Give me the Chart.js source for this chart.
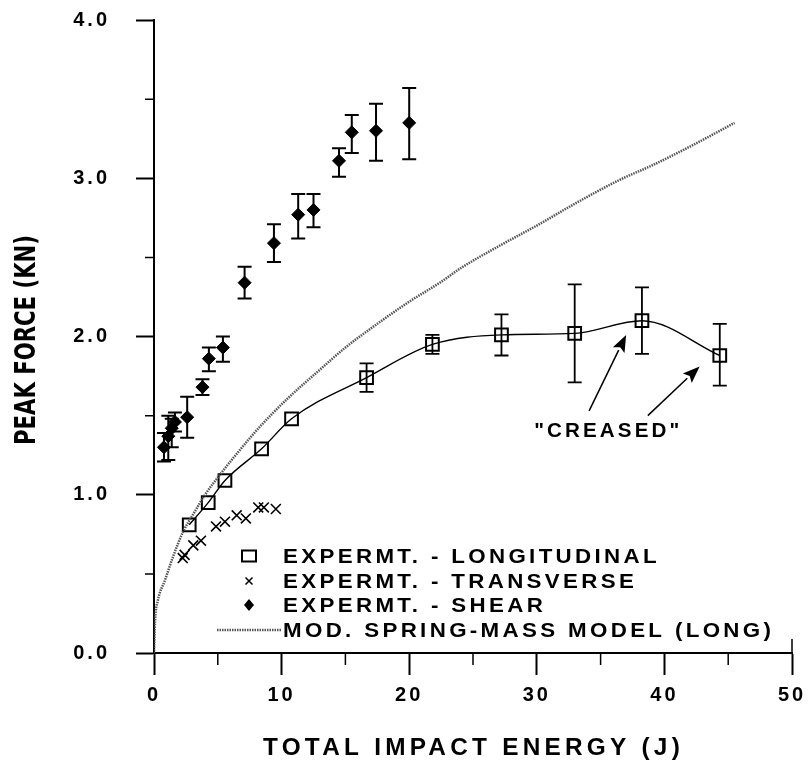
<!DOCTYPE html>
<html>
<head>
<meta charset="utf-8">
<script src="https://cdn.jsdelivr.net/npm/chart.js@4.4.1/dist/chart.umd.min.js"></script>
<style>
html, body { margin: 0; padding: 0; background: #fff; }
#wrap { width: 810px; height: 771px; }
</style>
</head>
<body>
<div id="wrap"><canvas id="c"></canvas></div>
<script>
'use strict';
// longitudinal tests: energy (J), peak force (kN), error bar ends
let longX = [2.76, 4.25, 5.56, 8.43, 10.78, 16.66, 21.82, 27.23, 32.97, 38.24, 44.34];
let longY = [0.81, 0.95, 1.09, 1.29, 1.48, 1.74, 1.95, 2.01, 2.02, 2.10, 1.88];
let longLo = [null, null, null, null, null, 1.65, 1.89, 1.88, 1.71, 1.89, 1.69];
let longHi = [null, null, null, null, null, 1.83, 2.01, 2.14, 2.33, 2.31, 2.08];

// transverse tests
let transX = [2.25, 2.4, 3.08, 3.68, 4.86, 5.56, 6.48, 7.2, 8.17, 8.61, 9.55];
let transY = [0.60, 0.62, 0.68, 0.71, 0.80, 0.83, 0.87, 0.85, 0.92, 0.92, 0.91];

// shear tests
let shearX = [0.78, 1.12, 1.39, 1.64, 2.6, 3.8, 4.3, 5.4, 7.1, 9.4, 11.3, 12.5, 14.5, 15.5, 17.4, 20.0];
let shearY = [1.30, 1.37, 1.42, 1.46, 1.49, 1.68, 1.86, 1.93, 2.34, 2.59, 2.77, 2.80, 3.11, 3.29, 3.30, 3.35];
let shearLo = [1.21, 1.22, 1.30, 1.40, 1.36, 1.63, 1.78, 1.84, 2.24, 2.47, 2.62, 2.69, 3.01, 3.16, 3.11, 3.12];
let shearHi = [1.39, 1.50, 1.48, 1.52, 1.62, 1.73, 1.93, 2.00, 2.44, 2.71, 2.90, 2.90, 3.19, 3.40, 3.47, 3.57];

// modified spring-mass model (long)
let modelX = [0, 0.08, 0.3, 0.86, 1.5, 2.3, 3.1, 4.0, 5.2, 6.6, 8.3, 10.5, 13.0, 15.0, 17.5, 20.0, 22.4, 24.0, 27.0, 30.2, 33.0, 36.5, 39.0, 42.0, 45.5];
let modelY = [0, 0.2, 0.33, 0.46, 0.61, 0.77, 0.88, 1.0, 1.13, 1.27, 1.43, 1.61, 1.79, 1.93, 2.08, 2.22, 2.34, 2.43, 2.57, 2.71, 2.84, 2.99, 3.08, 3.20, 3.35];

// axes
let xTicks = [0, 10, 20, 30, 40, 50];
let xMinor = [5, 15, 25, 35, 45];
let yTicks = [0, 1, 2, 3, 4];
let yMinor = [0.5, 1.5, 2.5, 3.5];

let legendLabels = [
    'EXPERMT. - LONGITUDINAL',
    'EXPERMT. - TRANSVERSE',
    'EXPERMT. - SHEAR',
    'MOD. SPRING-MASS MODEL (LONG)'
];
let noteText = '"CREASED"';
let noteAt = [35.6, 1.40];
let arrows = [[[34.1, 1.53], [37.0, 2.01]], [[38.7, 1.50], [42.76, 1.81]]];

function pts(xs, ys) {
    return xs.map((v, i) => ({ x: v, y: ys[i] }));
}

const MODEL_DASH = [1.5, 1];
const MODEL_COLOR = '#555';

function fitText(ctx, text, x, y, width) {
    let w = ctx.measureText(text).width;
    ctx.save();
    ctx.translate(x, y);
    ctx.scale(width / w, 1);
    ctx.fillText(text, 0, 0);
    ctx.restore();
}

function arrow(ctx, x1, y1, x2, y2) {
    let a = Math.atan2(y2 - y1, x2 - x1);
    let L = 17, H = 6.5;
    ctx.beginPath();
    ctx.moveTo(x1, y1);
    ctx.lineTo(x2 - L * Math.cos(a), y2 - L * Math.sin(a));
    ctx.lineWidth = 1.5;
    ctx.stroke();
    ctx.beginPath();
    ctx.moveTo(x2, y2);
    ctx.lineTo(x2 - L * Math.cos(a) + H * Math.sin(a), y2 - L * Math.sin(a) - H * Math.cos(a));
    ctx.lineTo(x2 - L * 0.8 * Math.cos(a), y2 - L * 0.8 * Math.sin(a));
    ctx.lineTo(x2 - L * Math.cos(a) - H * Math.sin(a), y2 - L * Math.sin(a) + H * Math.cos(a));
    ctx.closePath();
    ctx.fill();
}

const extras = {
    id: 'extras',
    beforeDraw(chart) {
        chart.ctx.letterSpacing = '3px';
    },
    afterDatasetsDraw(chart) {
        const ctx = chart.ctx;
        const xs = chart.scales.x, ys = chart.scales.y;
        ctx.save();
        ctx.strokeStyle = '#000';
        function bars(X, Lo, Hi, lw) {
            ctx.lineWidth = lw;
            for (let i = 0; i < X.length; i++) {
                if (Lo[i] == null) continue;
                let px = xs.getPixelForValue(X[i]);
                let a = ys.getPixelForValue(Lo[i]);
                let b = ys.getPixelForValue(Hi[i]);
                ctx.beginPath();
                ctx.moveTo(px, a); ctx.lineTo(px, b);
                ctx.moveTo(px - 7, a); ctx.lineTo(px + 7, a);
                ctx.moveTo(px - 7, b); ctx.lineTo(px + 7, b);
                ctx.stroke();
            }
        }
        bars(shearX, shearLo, shearHi, 2);
        bars(longX, longLo, longHi, 1.8);
        ctx.restore();
    },
    afterDraw(chart) {
        const ctx = chart.ctx;
        const xs = chart.scales.x, ys = chart.scales.y;
        const area = chart.chartArea;
        ctx.save();
        ctx.letterSpacing = '0px';
        ctx.strokeStyle = '#000';
        ctx.fillStyle = '#000';

        // minor ticks
        ctx.lineWidth = 1.5;
        ctx.beginPath();
        xMinor.forEach(v => {
            let px = xs.getPixelForValue(v);
            ctx.moveTo(px, area.bottom); ctx.lineTo(px, area.bottom + 12);
        });
        yMinor.forEach(v => {
            let py = ys.getPixelForValue(v);
            ctx.moveTo(area.left - 9, py); ctx.lineTo(area.left, py);
        });
        let pEnd = xs.getPixelForValue(xTicks[xTicks.length - 1]);
        ctx.moveTo(pEnd, area.bottom); ctx.lineTo(pEnd, area.bottom - 14);
        ctx.stroke();

        // axis titles
        ctx.textAlign = 'left';
        ctx.textBaseline = 'middle';
        ctx.font = 'bold 23px "Liberation Sans", Arial, sans-serif';
        ctx.letterSpacing = '4px';
        let tx = 'TOTAL IMPACT ENERGY (J)';
        let cx = (area.left + area.right) / 2;
        fitText(ctx, tx, cx - 210, 749, 421);

        ctx.letterSpacing = '0px';
        ctx.font = 'bold 28px "Liberation Sans Narrow", "DejaVu Sans Condensed", sans-serif';
        ctx.save();
        ctx.translate(28, 340);
        ctx.rotate(-Math.PI / 2);
        fitText(ctx, 'PEAK FORCE (KN)', -105, 0, 210);
        ctx.restore();

        // legend
        let rows = [556, 581, 605, 630];
        let sx = 249, tx0 = 283;
        ctx.lineWidth = 2;
        ctx.strokeRect(sx - 7, rows[0] - 5.5, 14, 11);
        ctx.lineWidth = 1.5;
        ctx.beginPath();
        ctx.moveTo(sx - 3.5, rows[1] - 3.5); ctx.lineTo(sx + 3.5, rows[1] + 3.5);
        ctx.moveTo(sx + 3.5, rows[1] - 3.5); ctx.lineTo(sx - 3.5, rows[1] + 3.5);
        ctx.stroke();
        ctx.beginPath();
        ctx.moveTo(sx, rows[2] - 6); ctx.lineTo(sx + 5, rows[2]);
        ctx.lineTo(sx, rows[2] + 6); ctx.lineTo(sx - 5, rows[2]);
        ctx.closePath(); ctx.fill();
        ctx.save();
        ctx.strokeStyle = MODEL_COLOR;
        ctx.lineWidth = 2.5;
        ctx.setLineDash(MODEL_DASH);
        ctx.beginPath();
        ctx.moveTo(217, rows[3]); ctx.lineTo(281, rows[3]);
        ctx.stroke();
        ctx.restore();

        ctx.font = 'bold 20px "Liberation Sans", Arial, sans-serif';
        ctx.letterSpacing = '3px';
        let k = 377 / ctx.measureText(legendLabels[0]).width;
        legendLabels.forEach((t, i) => {
            let w = ctx.measureText(t).width * k;
            fitText(ctx, t, tx0, rows[i] + 1, w);
        });

        // "CREASED" note and arrows
        let nx = xs.getPixelForValue(noteAt[0]);
        let ny = ys.getPixelForValue(noteAt[1]);
        fitText(ctx, noteText, nx - 74, ny, 148);
        ctx.letterSpacing = '0px';
        arrows.forEach(a => {
            arrow(ctx, xs.getPixelForValue(a[0][0]), ys.getPixelForValue(a[0][1]),
                xs.getPixelForValue(a[1][0]), ys.getPixelForValue(a[1][1]));
        });
        ctx.restore();
    }
};

const tickFont = { family: '"Liberation Sans", Arial, sans-serif', size: 20, weight: 'bold' };

new Chart(document.getElementById('c'), {
    type: 'scatter',
    data: {
        datasets: [
            {
                label: 'model',
                data: pts(modelX, modelY),
                showLine: true,
                cubicInterpolationMode: 'monotone',
                borderColor: MODEL_COLOR,
                borderWidth: 2.5,
                borderDash: MODEL_DASH,
                pointRadius: 0
            },
            {
                label: 'longitudinal',
                data: pts(longX, longY),
                showLine: true,
                cubicInterpolationMode: 'monotone',
                borderColor: '#000',
                borderWidth: 1.4,
                pointStyle: 'rect',
                pointRadius: 9,
                pointBorderWidth: 2,
                pointBorderColor: '#000',
                pointBackgroundColor: 'rgba(0,0,0,0)'
            },
            {
                label: 'transverse',
                data: pts(transX, transY),
                pointStyle: 'crossRot',
                pointRadius: 7,
                pointBorderWidth: 1.6,
                pointBorderColor: '#000'
            },
            {
                label: 'shear',
                data: pts(shearX, shearY),
                pointStyle: 'rectRot',
                pointRadius: 6.5,
                pointBorderWidth: 1,
                pointBorderColor: '#000',
                pointBackgroundColor: '#000'
            }
        ]
    },
    options: {
        responsive: true,
        maintainAspectRatio: false,
        animation: false,
        devicePixelRatio: 1,
        layout: { padding: { top: 20, right: 18, bottom: 0, left: 0 } },
        plugins: { legend: { display: false }, tooltip: { enabled: false } },
        scales: {
            x: {
                type: 'linear',
                min: 0,
                max: 50,
                afterFit(s) {
                    s.height = 118;
                    s.paddingLeft = 0; s.paddingRight = 0;
                },
                afterBuildTicks(s) { s.ticks = xTicks.map(v => ({ value: v })); },
                ticks: {
                    color: '#000',
                    font: tickFont,
                    padding: 8,
                    maxRotation: 0,
                    callback: v => String(v)
                },
                grid: {
                    drawOnChartArea: false,
                    drawTicks: true,
                    tickLength: 22,
                    tickWidth: 2,
                    tickColor: '#000'
                },
                border: { display: true, color: '#000', width: 2 }
            },
            y: {
                type: 'linear',
                min: 0,
                max: 4,
                afterFit(s) {
                    s.width = 154;
                    s.paddingTop = 0; s.paddingBottom = 0;
                },
                afterBuildTicks(s) { s.ticks = yTicks.map(v => ({ value: v })); },
                ticks: {
                    color: '#000',
                    font: tickFont,
                    padding: 26,
                    callback: v => v.toFixed(1)
                },
                grid: {
                    drawOnChartArea: false,
                    drawTicks: true,
                    tickLength: 18,
                    tickWidth: 2,
                    tickColor: '#000'
                },
                border: { display: true, color: '#000', width: 2 }
            }
        }
    },
    plugins: [extras]
});
</script>
</body>
</html>
